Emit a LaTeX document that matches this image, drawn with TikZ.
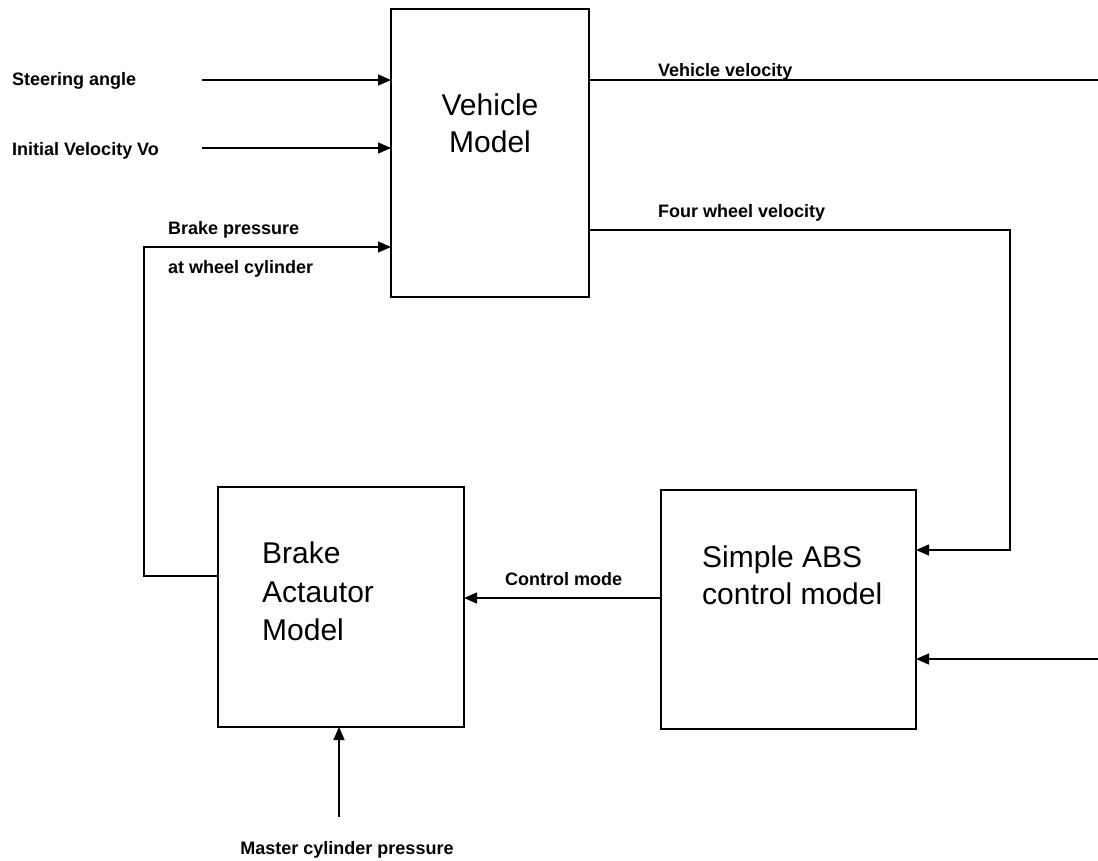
\documentclass[tikz,border=0pt]{standalone}
\usepackage{fontspec}
\setmainfont{Liberation Sans}
\usetikzlibrary{arrows.meta}
\begin{document}
\begin{tikzpicture}[x=1pt,y=-1pt,
  blk/.style={draw, line width=1.6pt, inner sep=0pt, outer sep=0pt},
  big/.style={font=\fontsize{30}{36}\selectfont, inner sep=0pt},
  lbl/.style={font=\bfseries\fontsize{18}{22}\selectfont, inner sep=0pt},
  wire/.style={line width=1.4pt},
  arr/.style={wire, -{Triangle[length=13pt,width=11pt]}}]
\useasboundingbox (0,0) rectangle (1098,860);

% blocks
\node[blk, minimum width=198pt, minimum height=288pt] (vm) at (490,153) {};
\node[blk, minimum width=246pt, minimum height=240pt] (ba) at (341,607) {};
\node[blk, minimum width=255pt, minimum height=239pt] (abs) at (788.5,609.5) {};

% block texts
\node[big, anchor=base] (vm1) at (490,115) {Vehicle};
\node[big, anchor=base] (vm2) at (490,152) {Model};
\node[big, anchor=base west] (ba1) at (262,563) {Brake};
\node[big, anchor=base west] (ba2) at (262,602) {Actautor};
\node[big, anchor=base west] (ba3) at (262,640) {Model};
\node[big, anchor=base west] (ab1) at (702,567) {Simple ABS};
\node[big, anchor=base west] (ab2) at (702,604) {control model};

% labels
\node[lbl, anchor=base west] (l1) at (12,85) {Steering angle};
\node[lbl, anchor=base west] (l2) at (12,155) {Initial Velocity Vo};
\node[lbl, anchor=base west] (l3) at (168,234) {Brake pressure};
\node[lbl, anchor=base west] (l4) at (168,273) {at wheel cylinder};
\node[lbl, anchor=base west] (l5) at (658,76) {Vehicle velocity};
\node[lbl, anchor=base west] (l6) at (658,217) {Four wheel velocity};
\node[lbl, anchor=base west] (l7) at (505,585) {Control mode};
\node[lbl, anchor=base] (l8) at (347,854) {Master cylinder pressure};

% coordinates
\coordinate (s1) at (202,80);
\coordinate (s2) at (202,148);
\coordinate (fbx) at (144,576);
\coordinate (bpy) at (0,247);
\coordinate (vvend) at (1098,80);
\coordinate (fw) at (1010,230);
\coordinate (fwy) at (0,550);
\coordinate (rin) at (1098,659);
\coordinate (cmy) at (0,598);
\coordinate (mc) at (339,817);

% connectors
\draw[arr] (s1) -- (s1 -| vm.west);
\draw[arr] (s2) -- (s2 -| vm.west);
\draw[arr] (ba.west |- fbx) -- (fbx) |- (vm.west |- bpy);
\draw[wire] (vm.east |- vvend) -- (vvend);
\draw[arr] (vm.east |- fw) -- (fw) |- (abs.east |- fwy);
\draw[arr] (rin) -- (abs.east |- rin);
\draw[arr] (abs.west |- cmy) -- (ba.east |- cmy);
\draw[arr] (mc) -- (mc |- ba.south);
\end{tikzpicture}
\end{document}
